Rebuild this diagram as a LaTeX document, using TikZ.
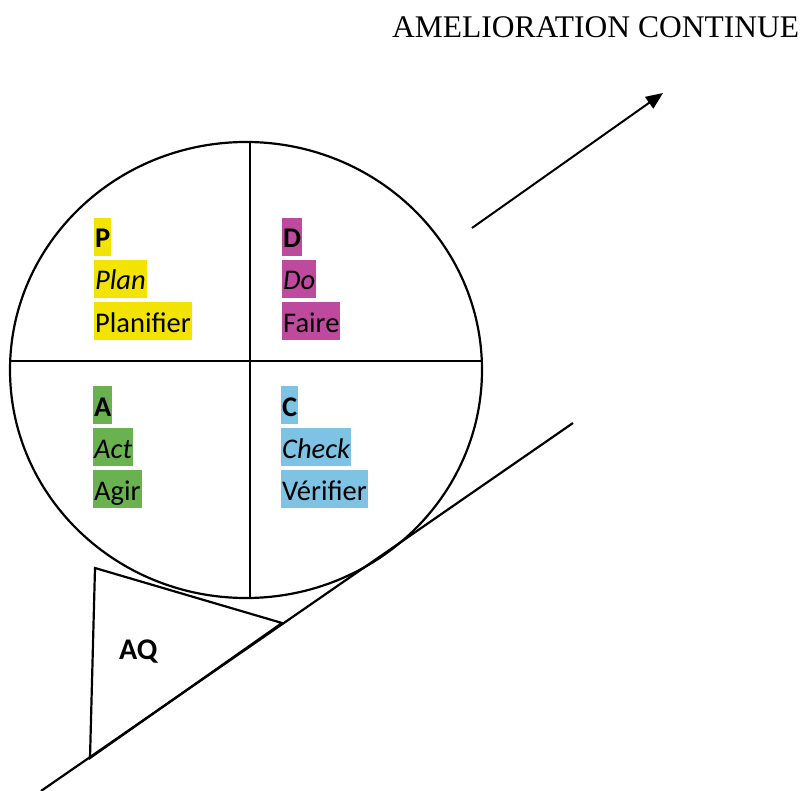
\documentclass[tikz,border=0pt]{standalone}
\usepackage{fontspec}
\setmainfont{Liberation Serif}
\newfontfamily\calib{Carlito}
\usetikzlibrary{arrows.meta}
\definecolor{hlyellow}{RGB}{242,228,0}
\definecolor{hlmagenta}{RGB}{190,74,158}
\definecolor{hlgreen}{RGB}{106,178,80}
\definecolor{hlblue}{RGB}{126,194,228}
\tikzset{
  hl/.style={fill=#1, inner xsep=1pt, inner ysep=0pt, text height=30pt, text depth=8pt,
    anchor=base west, font=\calib\fontsize{28.5}{30}\selectfont},
  edge/.style={line width=2.2pt, line join=miter},
}
\begin{document}
\begin{tikzpicture}[x=1pt,y=-1pt]
\useasboundingbox (0,0) rectangle (805,791);
% title
\node[anchor=base west, inner sep=0pt, font=\fontsize{31.5}{34}\selectfont] (title) at (392,38) {AMELIORATION CONTINUE};
% arrow
\coordinate (a0) at (472,228);
\coordinate (a1) at (663,93);
\draw[line width=2pt, -{Triangle[length=17pt,width=14pt]}] (a0) -- (a1);
% circle
\coordinate (cc) at (246,370);
\begin{scope}
\clip (cc) ellipse [x radius=236, y radius=228];
\draw[edge] (250,100) -- (250,640);
\draw[edge] (0,361) -- (500,361);
\end{scope}
\draw[edge] (cc) ellipse [x radius=236, y radius=228];
% wedge
\coordinate (t1) at (95,568);
\coordinate (t2) at (282,623);
\coordinate (t3) at (90,758);
\draw[edge, fill=white] (t1) -- (t2) -- (t3) -- cycle;
% incline
\coordinate (i0) at (41,791);
\coordinate (i1) at (573,423);
\draw[edge] (i0) -- (i1);
\node[anchor=base west, inner sep=0pt, font=\calib\bfseries\fontsize{30}{32}\selectfont] (aq) at (119,659) {AQ};
% P
\node[hl=hlyellow] (p1) at (94,248) {\bfseries P};
\node[hl=hlyellow] (p2) at (94,290) {\itshape Plan};
\node[hl=hlyellow] (p3) at (94,332) {Planifier};
% D
\node[hl=hlmagenta] (d1) at (282,248) {\bfseries D};
\node[hl=hlmagenta] (d2) at (282,290) {\itshape Do};
\node[hl=hlmagenta] (d3) at (282,332) {Faire};
% A
\node[hl=hlgreen] (x1) at (93,416) {\bfseries A};
\node[hl=hlgreen] (x2) at (93,458) {\itshape Act};
\node[hl=hlgreen] (x3) at (93,500) {Agir};
% C
\node[hl=hlblue] (c1) at (281,416) {\bfseries C};
\node[hl=hlblue] (c2) at (281,458) {\itshape Check};
\node[hl=hlblue] (c3) at (281,500) {Vérifier};
\end{tikzpicture}
\end{document}
